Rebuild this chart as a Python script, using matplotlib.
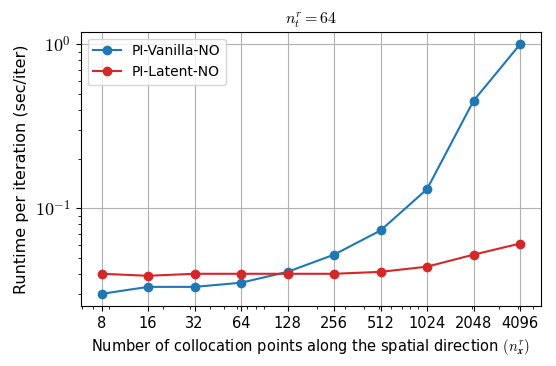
import numpy as np
import matplotlib
matplotlib.use("Agg")
import matplotlib.pyplot as plt
from matplotlib.ticker import FuncFormatter

plt.rcParams['mathtext.fontset'] = 'cm'
plt.rcParams['font.family'] = 'DejaVu Sans'

# collocation points along the spatial direction
n_points = [8, 16, 32, 64, 128, 256, 512, 1024, 2048, 4096]
tick_labels = ['8', '16', '32', '64', '128', '256', '512', '1024', '2048', '4096']

# runtime per iteration (sec/iter)
vanilla = [0.0301, 0.0332, 0.0332, 0.0352, 0.0410, 0.0522, 0.0733, 0.131, 0.453, 1.0]
latent = [0.0399, 0.0388, 0.0399, 0.0399, 0.0399, 0.0399, 0.0410, 0.0441, 0.0522, 0.0610]

fig, ax = plt.subplots(figsize=(5.56, 3.66), dpi=100)

ax.plot(n_points, vanilla, marker='o', color='#1f77b4', label='PI-Vanilla-NO')
ax.plot(n_points, latent, marker='o', color='#d62728', label='PI-Latent-NO')

ax.set_xscale('log')
ax.set_yscale('log')
ax.set_xticks(n_points)
ax.set_xticklabels(tick_labels)
# serif powers of ten like the LaTeX-rendered original
ax.yaxis.set_major_formatter(FuncFormatter(lambda v, pos: r'$10^{%d}$' % round(np.log10(v))))
ax.grid(True, which='major', color='#b0b0b0', linewidth=0.8)

ax.set_xlabel(r'Number of collocation points along the spatial direction $(n_{\boldsymbol{x}}^r)$', fontsize=10.5)
ax.set_ylabel('Runtime per iteration (sec/iter)', fontsize=11.5)
ax.set_title(r'$n_t^r = 64$', fontsize=11.5)
ax.tick_params(axis='x', labelsize=10.5)
ax.tick_params(axis='y', labelsize=13)
ax.legend(loc='upper left', fontsize=10)

fig.subplots_adjust(left=0.145, right=0.973, top=0.913, bottom=0.163)
fig.savefig('out.png', dpi=100)
